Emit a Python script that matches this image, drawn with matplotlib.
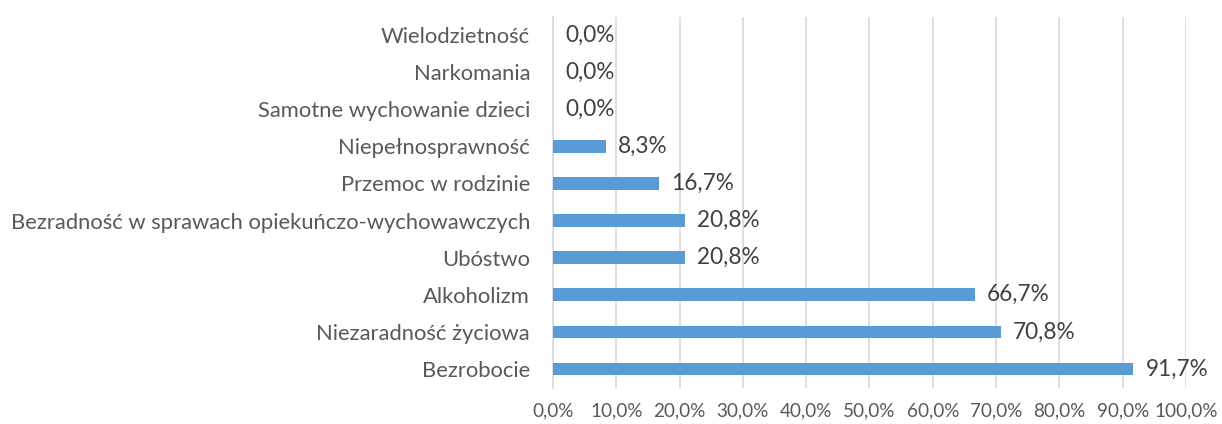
import matplotlib
matplotlib.use("Agg")
import matplotlib.pyplot as plt
from matplotlib.ticker import FuncFormatter

categories = ["Bezrobocie", "Niezaradność życiowa", "Alkoholizm", "Ubóstwo",
              "Bezradność w sprawach opiekuńczo-wychowawczych", "Przemoc w rodzinie",
              "Niepełnosprawność", "Samotne wychowanie dzieci", "Narkomania", "Wielodzietność"]
values = [91.7, 70.8, 66.7, 20.8, 20.8, 16.7, 8.3, 0.0, 0.0, 0.0]
xticks = [0, 10, 20, 30, 40, 50, 60, 70, 80, 90, 100]

plt.rcParams['font.family'] = ['Lato', 'DejaVu Sans']
txt = '#595959'
W, H = 1222, 424
fig = plt.figure(figsize=(W/100, H/100), dpi=100)
ax = fig.add_axes([553/W, 1-387.5/H, (1186-553)/W, (387.5-16.5)/H])

ypos = list(range(len(categories)))
ax.barh(ypos, values, height=0.34, color='#5B9BD5', zorder=3)
for y, v in zip(ypos, values):
    ax.text(v + 1.9, y, f"{v:.1f}%".replace('.', ','), va='center', ha='left',
            fontsize=16.3, color='#404040', zorder=4)

ax.set_xlim(0, 100)
ax.set_ylim(-0.5, len(categories) - 0.5)
ax.set_xticks(xticks)
ax.xaxis.set_major_formatter(FuncFormatter(lambda x, p: f"{x:.1f}%".replace('.', ',')))
ax.set_yticks(ypos)
ax.set_yticklabels(categories)
ax.tick_params(axis='y', length=0, pad=16.5, labelsize=15.8, labelcolor=txt)
ax.tick_params(axis='x', length=0, pad=11, labelsize=13.6, labelcolor=txt)
ax.grid(axis='x', color='#D9D9D9', linewidth=1.2, zorder=0)
for s in ['top', 'right', 'bottom']:
    ax.spines[s].set_visible(False)
ax.spines['left'].set_color('#D9D9D9')
ax.spines['left'].set_linewidth(1.2)

fig.savefig('out.png', dpi=100)
